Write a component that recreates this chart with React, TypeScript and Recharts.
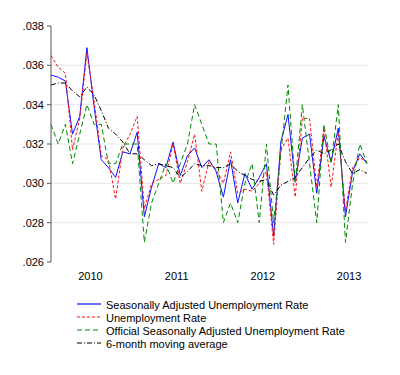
import { CartesianGrid, Legend, Line, LineChart, XAxis, YAxis } from "recharts";

// monthly, Jan 2010 - Sep 2013
const saRate = [
  0.0355, 0.0354, 0.0352, 0.0325, 0.0334, 0.0369, 0.0339, 0.0312, 0.0308, 0.0303, 0.0316, 0.0315,
  0.0326, 0.0283, 0.0298, 0.031, 0.0308, 0.0321, 0.0304, 0.0314, 0.0318, 0.0308, 0.0312, 0.0306,
  0.0293, 0.0312, 0.029, 0.0305, 0.0297, 0.0303, 0.031, 0.0273, 0.0321, 0.0335, 0.0301, 0.0323,
  0.0325, 0.0295, 0.0324, 0.0311, 0.0328, 0.0283, 0.0306, 0.0315, 0.031,
];

const rate = [
  0.0365, 0.0359, 0.0356, 0.0317, 0.0333, 0.0366, 0.0342, 0.0314, 0.0312, 0.0292, 0.0318, 0.0325,
  0.0334, 0.0287, 0.03, 0.0302, 0.0304, 0.032, 0.03, 0.0311, 0.0325, 0.0296, 0.0311, 0.0307,
  0.03, 0.0316, 0.0295, 0.0297, 0.0296, 0.03, 0.0306, 0.0269, 0.0317, 0.0323, 0.0293, 0.0333,
  0.0333, 0.0298, 0.0328, 0.0298, 0.0326, 0.0286, 0.0308, 0.0313, 0.0311,
];

const officialRate = [
  0.033, 0.032, 0.033, 0.031, 0.0325, 0.034, 0.033, 0.033, 0.031, 0.031, 0.032, 0.032,
  0.032, 0.027, 0.029, 0.03, 0.031, 0.03, 0.031, 0.032, 0.034, 0.033, 0.032, 0.032,
  0.028, 0.029, 0.028, 0.03, 0.031, 0.028, 0.032, 0.028, 0.0315, 0.035, 0.03, 0.034,
  0.031, 0.028, 0.033, 0.031, 0.034, 0.027, 0.03, 0.032, 0.031,
];

const movingAvg = [
  0.035, 0.0351, 0.0351, 0.0347, 0.0344, 0.0349, 0.0345, 0.0337, 0.0328, 0.0325, 0.0321, 0.0315,
  0.0315, 0.0312, 0.0309, 0.031, 0.0309, 0.0308, 0.0303, 0.0306, 0.031, 0.0309, 0.0309, 0.0308,
  0.0308, 0.031, 0.0306, 0.0304, 0.0302, 0.0301, 0.0302, 0.0294, 0.0299, 0.0301, 0.0303, 0.0308,
  0.0313, 0.0317, 0.0315, 0.0317, 0.032, 0.0311, 0.0305, 0.0307, 0.0305,
];

const yearLabels = ["2010", "2011", "2012", "2013"];
const yearBoundaries = [0, 12, 24, 36];
const yearMidpoints = [5.5, 17.5, 29.5, 41.5];
const yTicks = [0.026, 0.028, 0.03, 0.032, 0.034, 0.036, 0.038];

const series = [
  { key: "sa", name: "Seasonally Adjusted Unemployment Rate", color: "#1010ff", dash: undefined },
  { key: "nsa", name: "Unemployment Rate", color: "#ff1010", dash: "3 2" },
  { key: "official", name: "Official Seasonally Adjusted Unemployment Rate", color: "#008a00", dash: "5 3" },
  { key: "ma", name: "6-month moving average", color: "#000000", dash: "5 2 1 2" },
];

const data = saRate.map((v, i) => ({
  idx: i,
  sa: v,
  nsa: rate[i],
  official: officialRate[i],
  ma: movingAvg[i],
}));

const fmtRate = (v: number) => v.toFixed(3).replace(/^0/, "");

const renderLegend = () => (
  <svg width={300} height={54} style={{ display: "block" }}>
    {series.map((s, i) => (
      <g key={s.key} transform={`translate(0, ${i * 13})`}>
        <line x1={0} x2={24} y1={7} y2={7} stroke={s.color} strokeWidth={1.2} strokeDasharray={s.dash} />
        <text x={29} y={11.5} fontSize={11} fill="#000">
          {s.name}
        </text>
      </g>
    ))}
  </svg>
);

export default function App() {
  const tickStyle = { fill: "#000", fontSize: 11 };
  return (
    <div
      style={{
        position: "absolute",
        left: 0,
        top: 0,
        width: 400,
        height: 375,
        background: "#fff",
        fontFamily: "'Liberation Sans', Arial, sans-serif",
      }}
    >
      <LineChart width={400} height={375} data={data} margin={{ top: 26, right: 33, bottom: 83, left: 0 }}>
        <CartesianGrid vertical={false} stroke="#e6e6e6" horizontalValues={[0.028, 0.03, 0.032, 0.034, 0.036]} />
        <XAxis
          xAxisId="bounds"
          dataKey="idx"
          type="number"
          domain={[0, 44]}
          ticks={yearBoundaries}
          interval={0}
          height={0}
          tick={false}
          tickSize={4}
          axisLine={{ stroke: "#555" }}
          tickLine={{ stroke: "#555" }}
        />
        <XAxis
          xAxisId="years"
          dataKey="idx"
          type="number"
          domain={[0, 44]}
          ticks={yearMidpoints}
          interval={0}
          height={30}
          axisLine={false}
          tickLine={false}
          tickSize={0}
          tickMargin={10}
          tick={tickStyle}
          tickFormatter={(_v: number, i: number) => yearLabels[i]}
        />
        <YAxis
          width={51}
          domain={[0.026, 0.038]}
          ticks={yTicks}
          interval={0}
          tickSize={4}
          tickMargin={3}
          tick={tickStyle}
          tickFormatter={fmtRate}
          axisLine={{ stroke: "#555" }}
          tickLine={{ stroke: "#555" }}
        />
        <Legend
          layout="vertical"
          align="center"
          verticalAlign="middle"
          content={renderLegend}
          wrapperStyle={{ left: 77, top: 297, width: 300 }}
        />
        {series.map((s) => (
          <Line
            key={s.key}
            xAxisId="bounds"
            type="linear"
            dataKey={s.key}
            name={s.name}
            stroke={s.color}
            strokeWidth={1}
            strokeDasharray={s.dash}
            dot={false}
            activeDot={false}
            isAnimationActive={false}
          />
        ))}
      </LineChart>
    </div>
  );
}
